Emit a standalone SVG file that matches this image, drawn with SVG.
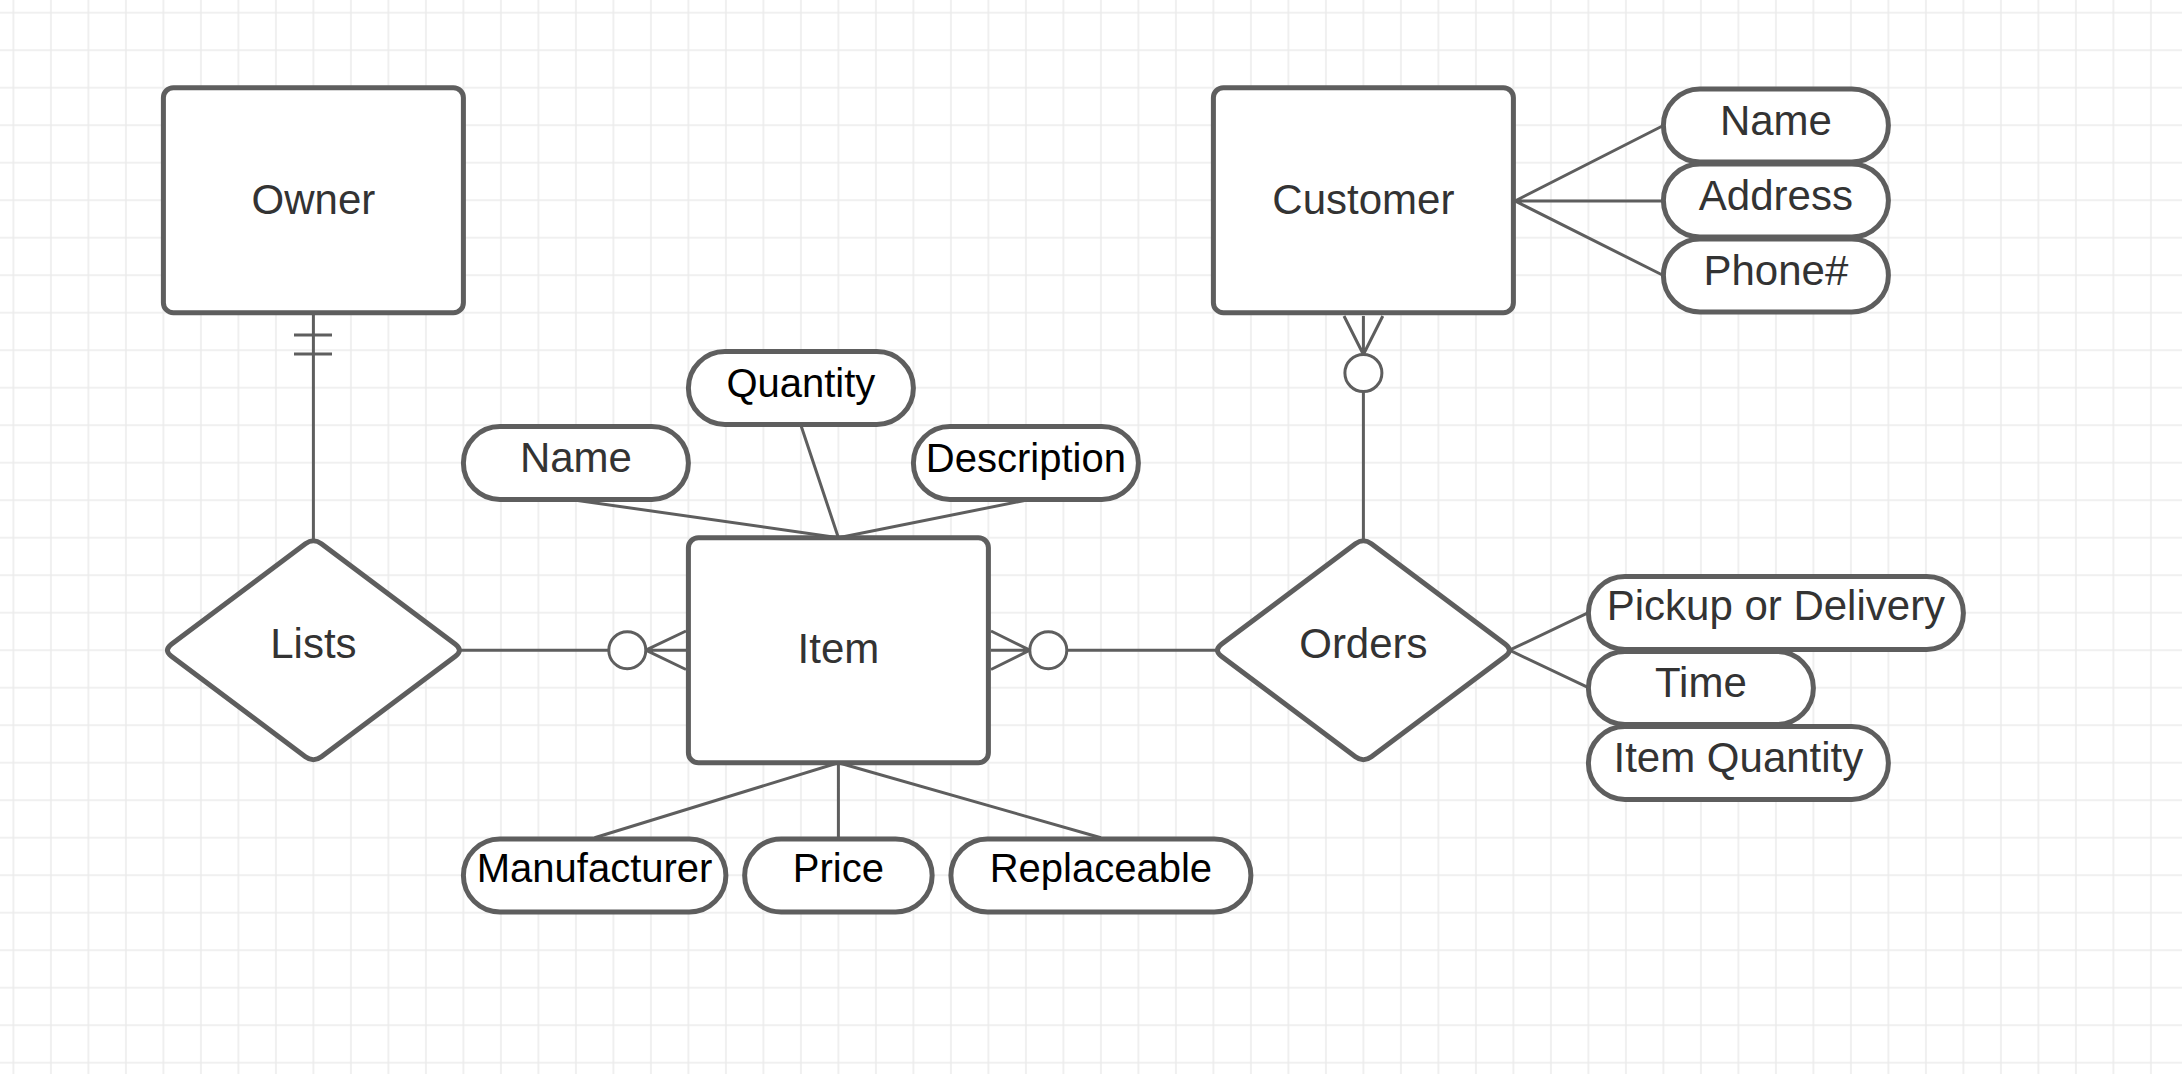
<svg xmlns="http://www.w3.org/2000/svg" width="2182" height="1074" viewBox="0 0 2182 1074">
<style>
.shape{fill:#fff;stroke:#5e5e5e;stroke-width:5;stroke-linejoin:round}
.conn{fill:none;stroke:#5e5e5e;stroke-width:3}
.circ{fill:#fff;stroke:#5e5e5e;stroke-width:3}
.t{font-family:"Liberation Sans",Arial,sans-serif;font-size:42px;text-anchor:middle;fill:#333}
.k{fill:#000;font-size:40px}
</style>
<defs>
<pattern id="grid" x="12.4" y="11.7" width="37.5" height="37.5" patternUnits="userSpaceOnUse">
<path d="M1 0V37.5M0 1H37.5" stroke="#ebebeb" stroke-width="1.5" fill="none"/>
</pattern>
</defs>
<rect width="2182" height="1074" fill="#fff"/>
<rect width="2182" height="1074" fill="url(#grid)"/>

<g id="connectors">
<!-- Owner - Lists -->
<path class="conn" d="M313.4 313V541"/>
<path class="conn" d="M294 335H332M294 354H332"/>
<!-- Lists - Item -->
<path class="conn" d="M459 650.2H608.8"/>
<path class="conn" d="M645.8 650.2H686M645.8 650.2L686 631M645.8 650.2L686 669.5"/>
<circle class="circ" cx="627.3" cy="650.2" r="18.5"/>
<!-- Item - Orders -->
<path class="conn" d="M1066.8 650.2H1218"/>
<path class="conn" d="M1029.8 650.2H991M1029.8 650.2L991 631M1029.8 650.2L991 669.5"/>
<circle class="circ" cx="1048.3" cy="650.2" r="18.5"/>
<!-- Customer - Orders -->
<path class="conn" d="M1363.4 391.5V541"/>
<path class="conn" d="M1363.4 354.5V316M1363.4 354.5L1344 316M1363.4 354.5L1382.8 316"/>
<circle class="circ" cx="1363.4" cy="373" r="18.5"/>
<!-- Customer attributes -->
<path class="conn" d="M1515 201L1663.4 125.5M1515 201H1663.4M1515 201L1663.4 275.5"/>
<!-- Item top attributes -->
<path class="conn" d="M838.4 537.7L575.9 500.2M838.4 537.7L800.9 425.2M838.4 537.7L1025.9 500.2"/>
<!-- Item bottom attributes -->
<path class="conn" d="M838.4 762.7L594.6 837.7M838.4 762.7V837.7M838.4 762.7L1100.9 837.7"/>
<!-- Orders attributes -->
<path class="conn" d="M1509.5 650.2L1588.4 612.7M1509.5 650.2L1588.4 687.7"/>
</g>

<g id="owner">
<rect class="shape" x="163.4" y="87.7" width="300" height="225" rx="10"/>
<text class="t" x="313.4" y="214">Owner</text>
</g>
<g id="customer">
<rect class="shape" x="1213.4" y="87.7" width="300" height="225" rx="10"/>
<text class="t" x="1363.4" y="214">Customer</text>
</g>
<g id="item">
<rect class="shape" x="688.4" y="537.7" width="300" height="225" rx="10"/>
<text class="t" x="838.4" y="663">Item</text>
</g>
<g id="lists">
<path class="shape" d="M305.4 543.7Q313.4 537.7 321.4 543.7L455.4 644.2Q463.4 650.2 455.4 656.2L321.4 756.7Q313.4 762.7 305.4 756.7L171.4 656.2Q163.4 650.2 171.4 644.2Z"/>
<text class="t" x="313.4" y="658">Lists</text>
</g>
<g id="orders">
<path class="shape" d="M1355.4 543.7Q1363.4 537.7 1371.4 543.7L1505.4 644.2Q1513.4 650.2 1505.4 656.2L1371.4 756.7Q1363.4 762.7 1355.4 756.7L1221.4 656.2Q1213.4 650.2 1221.4 644.2Z"/>
<text class="t" x="1363.4" y="658">Orders</text>
</g>

<g id="cust-name">
<rect class="shape" x="1663.4" y="89" width="225" height="73" rx="36.5"/>
<text class="t" x="1775.9" y="135">Name</text>
</g>
<g id="cust-address">
<rect class="shape" x="1663.4" y="164" width="225" height="73" rx="36.5"/>
<text class="t" x="1775.9" y="210">Address</text>
</g>
<g id="cust-phone">
<rect class="shape" x="1663.4" y="239" width="225" height="73" rx="36.5"/>
<text class="t" x="1775.9" y="285">Phone#</text>
</g>

<g id="item-name">
<rect class="shape" x="463.4" y="426.5" width="225" height="73" rx="36.5"/>
<text class="t" x="575.9" y="472">Name</text>
</g>
<g id="item-quantity">
<rect class="shape" x="688.4" y="351.5" width="225" height="73" rx="36.5"/>
<text class="t k" x="800.9" y="397">Quantity</text>
</g>
<g id="item-description">
<rect class="shape" x="913.4" y="426.5" width="225" height="73" rx="36.5"/>
<text class="t k" x="1025.9" y="472">Description</text>
</g>

<g id="item-manufacturer">
<rect class="shape" x="463.4" y="839" width="262.5" height="73" rx="36.5"/>
<text class="t k" x="594.6" y="882">Manufacturer</text>
</g>
<g id="item-price">
<rect class="shape" x="744.65" y="839" width="187.5" height="73" rx="36.5"/>
<text class="t k" x="838.4" y="882">Price</text>
</g>
<g id="item-replaceable">
<rect class="shape" x="950.9" y="839" width="300" height="73" rx="36.5"/>
<text class="t k" x="1100.9" y="882">Replaceable</text>
</g>

<g id="order-pickup">
<rect class="shape" x="1588.4" y="576.5" width="375" height="73" rx="36.5"/>
<text class="t" x="1775.9" y="620">Pickup or Delivery</text>
</g>
<g id="order-time">
<rect class="shape" x="1588.4" y="651.5" width="225" height="73" rx="36.5"/>
<text class="t" x="1700.9" y="697">Time</text>
</g>
<g id="order-itemquantity">
<rect class="shape" x="1588.4" y="726.5" width="300" height="73" rx="36.5"/>
<text class="t" x="1738.4" y="772">Item Quantity</text>
</g>
</svg>
